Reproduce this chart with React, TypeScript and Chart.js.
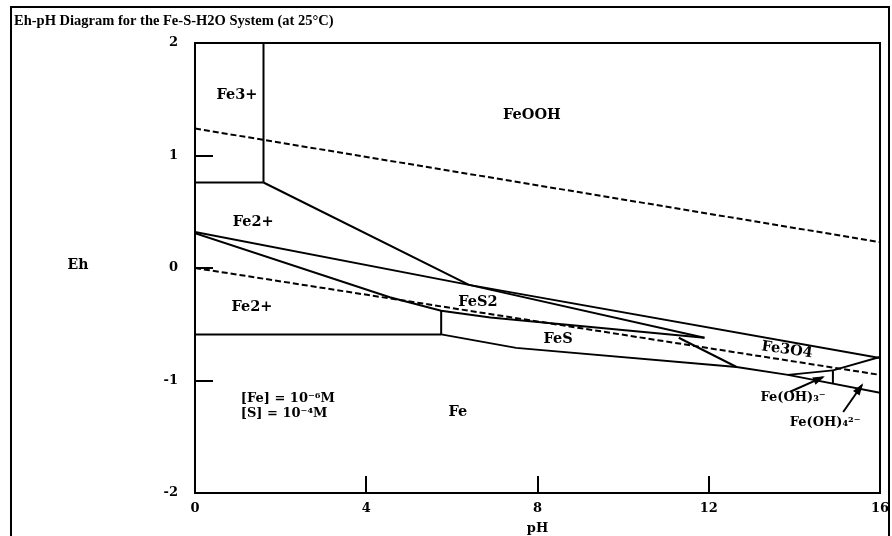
import React, { useEffect, useRef } from "react";
import { Chart, registerables } from "chart.js";

Chart.register(...registerables);

// ---- axis ticks ----
const xTickValues = [0, 4, 8, 12, 16];
const yTickValues = [-2, -1, 0, 1, 2];

// ---- boundary lines (pH, Eh) ----
const fe3RightPH = [1.6, 1.6];
const fe3RightEh = [2, 0.76];
const fe3BottomPH = [0, 1.6];
const fe3BottomEh = [0.76, 0.76];
const fe2FeoohPH = [1.6, 6.4];
const fe2FeoohEh = [0.76, -0.15];
const feoohLowerPH = [6.4, 16];
const feoohLowerEh = [-0.15, -0.8];
const fes2UpperPH = [0, 6.4, 11.9];
const fes2UpperEh = [0.32, -0.15, -0.62];
const fes2LowerPH = [0, 4.55, 5.75, 6.9, 11.9];
const fes2LowerEh = [0.31, -0.26, -0.38, -0.44, -0.62];
const fe2BottomPH = [0, 5.75];
const fe2BottomEh = [-0.59, -0.59];
const fe2FesPH = [5.75, 5.75];
const fe2FesEh = [-0.38, -0.59];
const feUpperPH = [5.75, 7.5, 12.65, 13.85, 16];
const feUpperEh = [-0.59, -0.71, -0.88, -0.95, -1.11];
const fesFe3o4PH = [11.3, 12.65];
const fesFe3o4Eh = [-0.62, -0.88];
const feoh3TopPH = [13.85, 14.9];
const feoh3TopEh = [-0.95, -0.91];
const feoh3RightPH = [14.9, 14.9];
const feoh3RightEh = [-0.91, -1.03];
const fe3o4RightPH = [14.9, 16];
const fe3o4RightEh = [-0.91, -0.79];

// ---- water stability (dashed) ----
const waterUpperPH = [0, 16];
const waterUpperEh = [1.24, 0.23];
const waterLowerPH = [0, 16];
const waterLowerEh = [0.0, -0.95];

// ---- arrows ----
const arrowFeOH3PH = [13.9, 14.67];
const arrowFeOH3Eh = [-1.1, -0.97];
const arrowFeOH4PH = [15.14, 15.58];
const arrowFeOH4Eh = [-1.28, -1.04];

// ---- region labels ----
const labelTexts = ["Fe3+", "FeOOH", "Fe2+", "Fe2+", "FeS2", "FeS", "Fe"];
const labelPH = [0.98, 7.87, 1.36, 1.33, 6.61, 8.48, 6.14];
const labelEh = [1.54, 1.36, 0.41, -0.35, -0.3, -0.63, -1.28];
const smallTexts = ["Fe(OH)₃⁻", "Fe(OH)₄²⁻"];
const smallPH = [13.97, 14.72];
const smallEh = [-1.156, -1.378];
const fe3o4Text = "Fe3O4";
const fe3o4PH = 13.83;
const fe3o4Eh = -0.73;
const concTexts = ["[Fe] = 10⁻⁶M", "[S] = 10⁻⁴M"];
const concPH = [1.07, 1.07];
const concEh = [-1.165, -1.29];

const titleText = "Eh-pH Diagram for the Fe-S-H2O System (at 25°C)";

const toPts = (xs: number[], ys: number[]) => xs.map((v, i) => ({ x: v, y: ys[i] }));

const solid = (xs: number[], ys: number[]) => ({
  data: toPts(xs, ys),
  showLine: true,
  borderColor: "#000",
  borderWidth: 2,
  pointRadius: 0,
  fill: false,
  tension: 0,
});
const dashed = (xs: number[], ys: number[]) => ({
  ...solid(xs, ys),
  borderDash: [6, 3],
  borderWidth: 2,
});
const arrow = (xs: number[], ys: number[]) => ({
  ...solid(xs, ys),
  isArrow: true,
});

const labelFont = 'bold 14.5px "DejaVu Serif"';
const smallFont = 'bold 13px "DejaVu Serif"';

const decorPlugin = {
  id: "decor",
  afterDraw(chart: any) {
    const { ctx, chartArea: a, scales } = chart;
    const x = scales.x;
    const y = scales.y;
    ctx.save();
    ctx.strokeStyle = "#000";
    ctx.fillStyle = "#000";
    ctx.lineWidth = 2;
    // plot frame
    ctx.strokeRect(a.left, a.top, a.right - a.left, a.bottom - a.top);
    // outer page frame
    ctx.strokeRect(11, 7, chart.width - 14, chart.height + 10);
    // inner tick marks
    ctx.beginPath();
    for (const t of xTickValues.slice(1, -1)) {
      const px = Math.round(x.getPixelForValue(t));
      ctx.moveTo(px, a.bottom);
      ctx.lineTo(px, a.bottom - 17);
    }
    for (const t of yTickValues.slice(1, -1)) {
      const py = Math.round(y.getPixelForValue(t));
      ctx.moveTo(a.left, py);
      ctx.lineTo(a.left + 18, py);
    }
    ctx.stroke();
    // arrowheads
    chart.data.datasets.forEach((ds: any, i: number) => {
      if (!ds.isArrow) return;
      const pts = chart.getDatasetMeta(i).data;
      const p0 = pts[pts.length - 2];
      const p1 = pts[pts.length - 1];
      const ang = Math.atan2(p1.y - p0.y, p1.x - p0.x);
      const L = 10, W = 4;
      ctx.beginPath();
      ctx.moveTo(p1.x + Math.cos(ang) * 2, p1.y + Math.sin(ang) * 2);
      ctx.lineTo(p1.x - Math.cos(ang) * L - Math.sin(ang) * W, p1.y - Math.sin(ang) * L + Math.cos(ang) * W);
      ctx.lineTo(p1.x - Math.cos(ang) * L + Math.sin(ang) * W, p1.y - Math.sin(ang) * L - Math.cos(ang) * W);
      ctx.closePath();
      ctx.fill();
    });
    // region labels
    ctx.font = labelFont;
    ctx.textAlign = "center";
    ctx.textBaseline = "middle";
    labelTexts.forEach((t, i) => {
      ctx.fillText(t, x.getPixelForValue(labelPH[i]), y.getPixelForValue(labelEh[i]));
    });
    ctx.save();
    ctx.translate(x.getPixelForValue(fe3o4PH), y.getPixelForValue(fe3o4Eh));
    ctx.rotate(0.14);
    ctx.fillText(fe3o4Text, 0, 0);
    ctx.restore();
    ctx.font = smallFont;
    smallTexts.forEach((t, i) => {
      ctx.fillText(t, x.getPixelForValue(smallPH[i]), y.getPixelForValue(smallEh[i]));
    });
    ctx.textAlign = "left";
    concTexts.forEach((t, i) => {
      ctx.fillText(t, x.getPixelForValue(concPH[i]), y.getPixelForValue(concEh[i]));
    });
    // Eh axis label (horizontal)
    ctx.font = 'bold 14px "DejaVu Serif"';
    ctx.textAlign = "center";
    ctx.fillText("Eh", 78, y.getPixelForValue(0) - 3);
    ctx.restore();
  },
};

export default function App() {
  const ref = useRef<HTMLCanvasElement>(null);
  useEffect(() => {
    const chart = new Chart(ref.current as HTMLCanvasElement, {
      type: "scatter",
      data: {
        datasets: [
          solid(fe3RightPH, fe3RightEh),
          solid(fe3BottomPH, fe3BottomEh),
          solid(fe2FeoohPH, fe2FeoohEh),
          solid(feoohLowerPH, feoohLowerEh),
          solid(fes2UpperPH, fes2UpperEh),
          solid(fes2LowerPH, fes2LowerEh),
          solid(fe2BottomPH, fe2BottomEh),
          solid(fe2FesPH, fe2FesEh),
          solid(feUpperPH, feUpperEh),
          solid(fesFe3o4PH, fesFe3o4Eh),
          solid(feoh3TopPH, feoh3TopEh),
          solid(feoh3RightPH, feoh3RightEh),
          solid(fe3o4RightPH, fe3o4RightEh),
          dashed(waterUpperPH, waterUpperEh),
          dashed(waterLowerPH, waterLowerEh),
          arrow(arrowFeOH3PH, arrowFeOH3Eh),
          arrow(arrowFeOH4PH, arrowFeOH4Eh),
        ] as any,
      },
      options: {
        responsive: false,
        animation: false,
        devicePixelRatio: 1,
        layout: { padding: { left: 14, right: 12, top: 0, bottom: 0 } },
        plugins: {
          legend: { display: false },
          tooltip: { enabled: false },
          title: {
            display: true,
            text: titleText,
            align: "start",
            color: "#000",
            font: { family: '"Liberation Serif"', size: 14.5, weight: "bold" },
            padding: { top: 13, bottom: 12.6 },
          },
        },
        scales: {
          x: {
            type: "linear",
            min: 0,
            max: 16,
            afterBuildTicks: (s: any) => {
              s.ticks = xTickValues.map((v) => ({ value: v }));
            },
            afterFit: (s: any) => {
              s.height = 43;
              s.paddingLeft = 0;
              s.paddingRight = 0;
            },
            grid: { display: false, drawTicks: false },
            border: { display: false },
            ticks: {
              color: "#000",
              padding: 8,
              maxRotation: 0,
              font: { family: '"DejaVu Serif"', size: 13, weight: "bold" },
            },
            title: {
              display: true,
              text: "pH",
              color: "#000",
              padding: { top: 0, bottom: 0 },
              font: { family: '"DejaVu Serif"', size: 13, weight: "bold" },
            },
          },
          y: {
            type: "linear",
            min: -2,
            max: 2,
            afterBuildTicks: (s: any) => {
              s.ticks = yTickValues.map((v) => ({ value: v }));
            },
            afterFit: (s: any) => {
              s.width = 181;
              s.paddingTop = 0;
              s.paddingBottom = 0;
            },
            grid: { display: false, drawTicks: false },
            border: { display: false },
            ticks: {
              color: "#000",
              padding: 17,
              font: { family: '"DejaVu Serif"', size: 13, weight: "bold" },
            },
          },
        },
      } as any,
      plugins: [decorPlugin],
    });
    return () => chart.destroy();
  }, []);
  return (
    <div style={{ position: "fixed", left: 0, top: 0, width: 892, height: 536, background: "#fff" }}>
      <canvas ref={ref} width={892} height={536} style={{ display: "block", width: 892, height: 536 }} />
    </div>
  );
}
